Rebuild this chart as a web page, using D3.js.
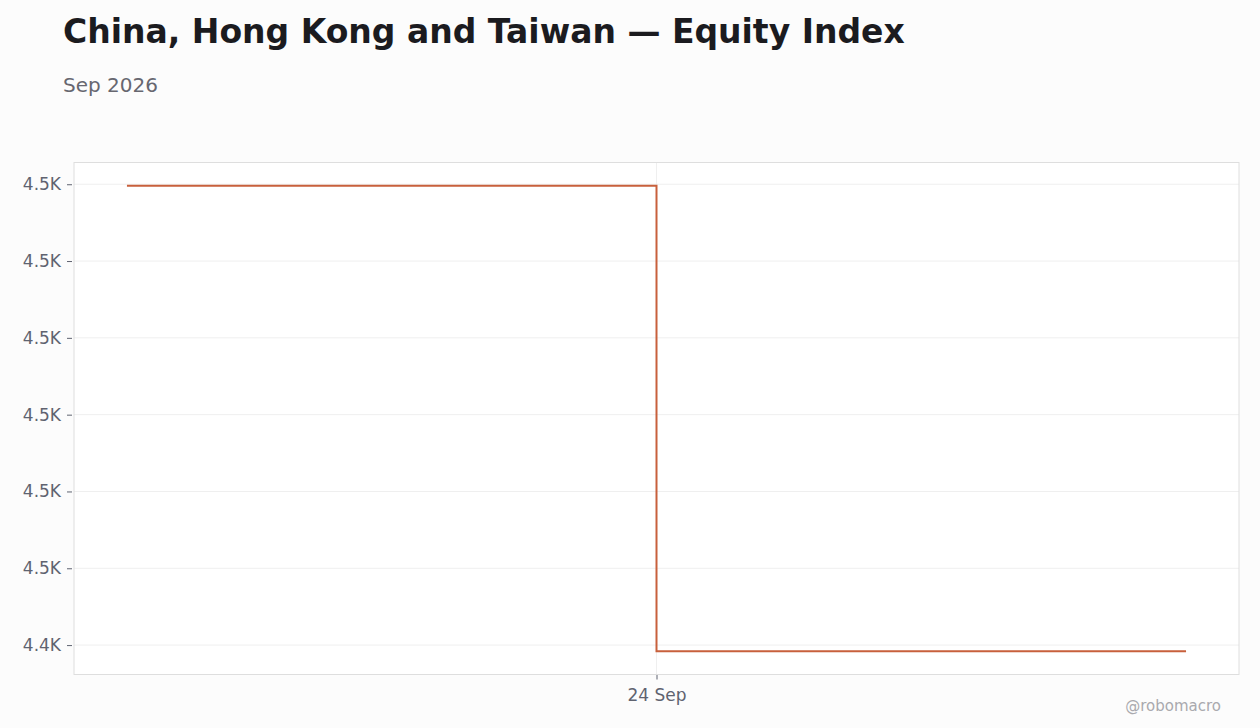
<!DOCTYPE html>
<html>
<head>
<meta charset="utf-8">
<script src="https://cdn.jsdelivr.net/npm/d3@7"></script>
<style>
  body { margin: 0; background: #fcfcfc; font-family: "DejaVu Sans", sans-serif; }
</style>
</head>
<body>
<svg width="1260" height="728"></svg>
<script>
const dates = ['2026-09-23', '2026-09-24', '2026-09-25'];
const values = [4499.8, 4439.2, 4439.2];
const xTickDates = ['2026-09-24'];

const parse = d3.timeParse('%Y-%m-%d');
const data = dates.map((d, i) => ({ date: parse(d), value: values[i] }));

const svg = d3.select('svg');
const width = +svg.attr('width');
const height = +svg.attr('height');

const margin = { top: 162.5, right: 21, bottom: 53.5, left: 74 };
const innerW = width - margin.left - margin.right;
const innerH = height - margin.top - margin.bottom;

svg.append('text')
    .attr('x', 63).attr('y', 43)
    .attr('font-size', 33).attr('font-weight', 'bold')
    .attr('fill', '#1b1b1f')
    .text('China, Hong Kong and Taiwan — Equity Index');

svg.append('text')
    .attr('x', 63).attr('y', 92)
    .attr('font-size', 20)
    .attr('fill', '#676770')
    .text('Sep 2026');

svg.append('text')
    .attr('x', 1221).attr('y', 711)
    .attr('text-anchor', 'end')
    .attr('font-size', 15)
    .attr('fill', '#a9a9ae')
    .text('@robomacro');

const g = svg.append('g')
    .attr('transform', `translate(${margin.left}, ${margin.top})`);

g.append('rect')
    .attr('width', innerW).attr('height', innerH)
    .attr('fill', '#ffffff');

// x domain with 5% padding
const xExt = d3.extent(data, d => d.date);
const xPad = (xExt[1] - xExt[0]) * 0.05;
const x = d3.scaleTime()
    .domain([new Date(+xExt[0] - xPad), new Date(+xExt[1] + xPad)])
    .range([0, innerW]);

const yExt = d3.extent(data, d => d.value);
const yPad = (yExt[1] - yExt[0]) * 0.05;
const y = d3.scaleLinear()
    .domain([yExt[0] - yPad, yExt[1] + yPad])
    .range([innerH, 0]);

const yTicks = y.ticks(6);
const fmt = v => d3.format('.2s')(v).replace('k', 'K');
const xTicks = xTickDates.map(parse);

// grid
g.append('g').selectAll('line')
    .data(yTicks)
    .join('line')
        .attr('x1', 0).attr('x2', innerW)
        .attr('y1', d => y(d)).attr('y2', d => y(d))
        .attr('stroke', '#efefef');

g.append('g').selectAll('line')
    .data(xTicks)
    .join('line')
        .attr('x1', d => x(d)).attr('x2', d => x(d))
        .attr('y1', 0).attr('y2', innerH)
        .attr('stroke', '#efefef');

// axes
const yAxis = g.append('g')
    .attr('transform', 'translate(-2,0)')
    .call(d3.axisLeft(y).tickValues(yTicks).tickFormat(fmt).tickSize(5).tickPadding(6));
yAxis.select('.domain').remove();
yAxis.selectAll('line').attr('stroke', '#5f6370');
yAxis.selectAll('text')
    .attr('font-family', 'DejaVu Sans')
    .attr('font-size', 17)
    .attr('fill', '#5f6370');

const xAxis = g.append('g')
    .attr('transform', `translate(0, ${innerH})`)
    .call(d3.axisBottom(x).tickValues(xTicks).tickFormat(d3.timeFormat('%-d %b')).tickSize(5).tickPadding(9));
xAxis.select('.domain').remove();
xAxis.selectAll('line').attr('stroke', '#5f6370');
xAxis.selectAll('text')
    .attr('font-family', 'DejaVu Sans')
    .attr('font-size', 17)
    .attr('fill', '#5f6370');

g.append('rect')
    .attr('width', innerW).attr('height', innerH)
    .attr('fill', 'none')
    .attr('stroke', '#dedede');

const line = d3.line()
    .x(d => x(d.date))
    .y(d => y(d.value))
    .curve(d3.curveStepAfter);

g.append('path')
    .datum(data)
    .attr('d', line)
    .attr('fill', 'none')
    .attr('stroke', '#c8603c')
    .attr('stroke-width', 2);
</script>
</body>
</html>
